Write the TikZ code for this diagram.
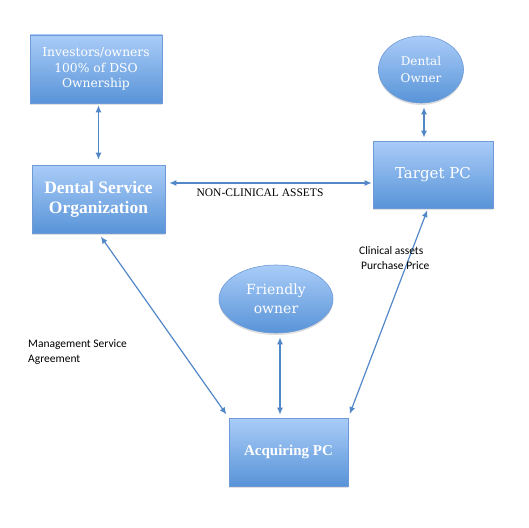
\documentclass[tikz,border=0pt]{standalone}
\usepackage{fontspec}
\setmainfont{Liberation Serif}
\newfontfamily\boxfont{DejaVu Serif}
\newfontfamily\labelfont{Carlito}
\usetikzlibrary{arrows.meta}
\usetikzlibrary{shadows}
\usetikzlibrary{shapes.geometric}
\definecolor{boxtop}{RGB}{170,204,248}
\definecolor{boxbottom}{RGB}{88,148,216}
\definecolor{boxline}{RGB}{110,155,215}
\definecolor{linkblue}{RGB}{82,135,200}
\tikzset{box/.style = {rectangle, draw = boxline, line width = 0.6pt,
                       top color = boxtop, bottom color = boxbottom,
                       text = white, align = center, inner sep = 0,
                       drop shadow = {shadow xshift = 0pt, shadow yshift = -2pt, opacity = 0.25}}}
\tikzset{blob/.style = {box, ellipse}}
\tikzset{link/.style = {{Latex[length = 7pt, width = 6pt]}-{Latex[length = 7pt, width = 6pt]},
                        draw = linkblue, line width = 1.2pt}}
\tikzset{tag/.style = {inner sep = 0, align = left, anchor = north west}}

\begin{document}
\begin{tikzpicture}[x = 1pt, y = -1pt]
      \useasboundingbox (0, 0) rectangle (529, 527);

      \node [box, minimum width = 132, minimum height = 68, font = \boxfont\fontsize{12.3}{15.5}\selectfont]
            (investors) at (96, 69) {Investors/owners\\100\% of DSO\\Ownership};
      \node [box, minimum width = 133, minimum height = 68, font = \bfseries\fontsize{17.5}{20}\selectfont]
            (dso) at (98.5, 199) {Dental Service\\Organization};
      \node [blob, minimum width = 85, minimum height = 67, font = \boxfont\fontsize{12}{17}\selectfont]
            (owner) at (421, 69.5) {Dental\\Owner};
      \node [box, minimum width = 120, minimum height = 67, font = \boxfont\fontsize{15}{18}\selectfont]
            (target) at (433, 174.5) {Target PC};
      \node [blob, minimum width = 114, minimum height = 68, font = \boxfont\fontsize{14}{19}\selectfont]
            (friendly) at (276, 299) {Friendly\\owner};
      \node [box, minimum width = 119, minimum height = 68, font = \bfseries\fontsize{15}{18}\selectfont]
            (acquiring) at (288.5, 452) {Acquiring PC};

      \draw [link, shorten <= 2pt, shorten >= 5pt] (investors.south -| dso.north) -- (dso.north);
      \draw [link, shorten <= 4pt, shorten >= 1pt] ([yshift = 16pt] dso.east) -- ([yshift = 16pt] dso.east -| target.west);
      \draw [link, shorten <= 4pt, shorten >= 3pt] ([xshift = 3pt] owner.south) -- ([xshift = 3pt] owner.south |- target.north);
      \draw [link, shorten <= 4pt, shorten >= 3pt] ([xshift = 4pt] friendly.south) -- ([xshift = 4pt] friendly.south |- acquiring.north);
      \draw [link, shorten <= 4pt, shorten >= 4pt] (dso.south) -- (acquiring.north west);
      \draw [link, shorten <= 2pt, shorten >= 4pt] ([xshift = -5pt] target.south) -- (acquiring.north east);

      \node [font = \fontsize{11.5}{14}\selectfont, inner sep = 0] (nonclinical) at (260, 193) {NON-CLINICAL ASSETS};
      \node [tag, font = \labelfont\fontsize{11.5}{15}\selectfont] (clinical) at (359, 246) {Clinical assets\\\hspace{2pt}Purchase Price};
      \node [tag, font = \labelfont\fontsize{11.5}{15}\selectfont] (msa) at (28, 339) {Management Service\\Agreement};
\end{tikzpicture}
\end{document}
